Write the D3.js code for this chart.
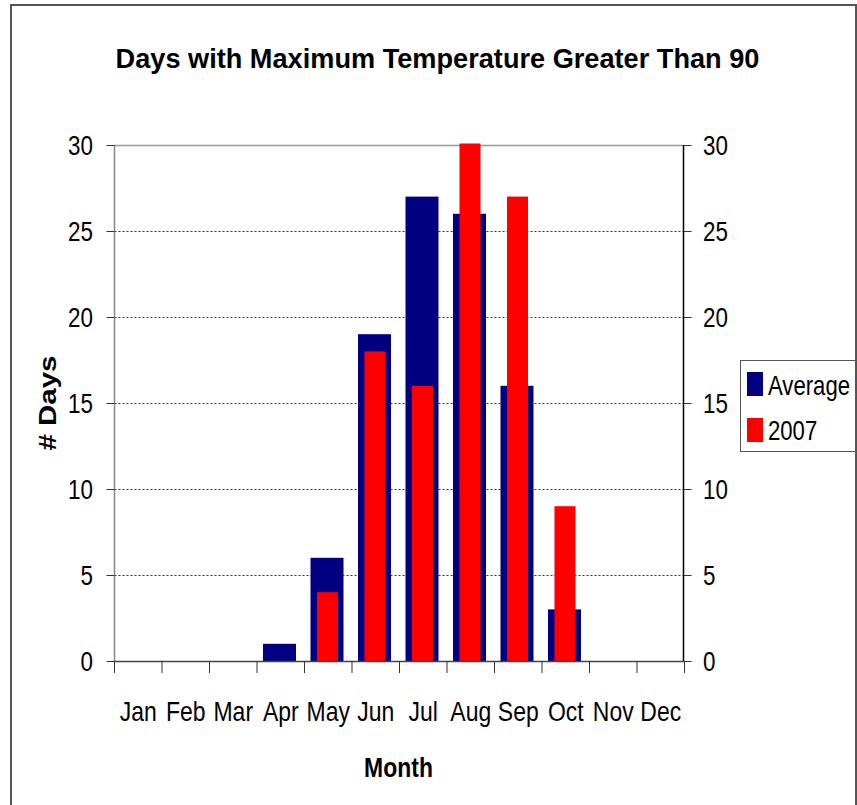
<!DOCTYPE html>
<html>
<head>
<meta charset="utf-8">
<script src="https://cdn.jsdelivr.net/npm/d3@7"></script>
<style>
  body { margin: 0; background: #fff; }
  svg text { font-family: "Liberation Sans Narrow", "Liberation Sans", Arial, sans-serif; fill: #000; }
</style>
</head>
<body>
<svg id="chart" width="857" height="805"></svg>
<script>
// data
var months = ['Jan', 'Feb', 'Mar', 'Apr', 'May', 'Jun', 'Jul', 'Aug', 'Sep', 'Oct', 'Nov', 'Dec'];
var averageDays = [0, 0, 0, 1, 6, 19, 27, 26, 16, 3, 0, 0];
var days2007 = [0, 0, 0, 0, 4, 18, 16, 30, 27, 9, 0, 0];
var yTicks = [0, 5, 10, 15, 20, 25, 30];
var seriesNames = ['Average', '2007'];
var seriesColors = ['#000080', '#ff0000'];

(function () {
  var svg = d3.select('#chart');
  var pLeft = 114.5, pRight = 684.5, pTop = 145, pBottom = 661;

  // outer frame
  svg.append('rect')
    .attr('x', 11).attr('y', 5)
    .attr('width', 845).attr('height', 820)
    .attr('fill', 'none').attr('stroke', '#555').attr('stroke-width', 2);

  var x = d3.scaleBand().domain(months).range([pLeft, pRight]).padding(0);
  var y = d3.scaleLinear().domain([0, 30]).range([pBottom, pTop]);

  // condensed text helper: squeeze horizontally like the original
  function label(g, txt, px, py, size, anchor, weight, sx) {
    return g.append('text')
      .attr('transform', 'translate(' + px + ',' + py + ') scale(' + (sx || 0.8) + ',1)')
      .attr('text-anchor', anchor)
      .style('font-size', size + 'px')
      .style('font-weight', weight || 'normal')
      .text(txt);
  }

  // gridlines (dotted), top one solid gray
  svg.append('g').selectAll('line')
    .data(yTicks.filter(function (t) { return t > 0; }))
    .join('line')
    .attr('x1', pLeft).attr('x2', pRight)
    .attr('y1', function (d) { return Math.round(y(d)) + 0.5; })
    .attr('y2', function (d) { return Math.round(y(d)) + 0.5; })
    .attr('stroke', function (d) { return d === 30 ? '#999' : '#333'; })
    .attr('stroke-width', function (d) { return d === 30 ? 1.5 : 1; })
    .attr('stroke-dasharray', function (d) { return d === 30 ? null : '2,2'; });

  // bars: average behind, 2007 in front
  var bars = svg.append('g');
  bars.selectAll('rect.avg')
    .data(averageDays.map(function (v, i) { return { m: months[i], v: v }; }).filter(function (d) { return d.v > 0; }))
    .join('rect').attr('class', 'avg')
    .attr('x', function (d) { return x(d.m) + 6; })
    .attr('width', 33)
    .attr('y', function (d) { return y(d.v); })
    .attr('height', function (d) { return y(0) - y(d.v); })
    .attr('fill', seriesColors[0]);

  bars.selectAll('rect.y07')
    .data(days2007.map(function (v, i) { return { m: months[i], v: v }; }).filter(function (d) { return d.v > 0; }))
    .join('rect').attr('class', 'y07')
    .attr('x', function (d) { return x(d.m) + 12.5; })
    .attr('width', 21)
    .attr('y', function (d) { return y(d.v) - (d.v === 30 ? 1.5 : 0); })
    .attr('height', function (d) { return y(0) - y(d.v) + (d.v === 30 ? 1.5 : 0); })
    .attr('fill', seriesColors[1]);

  // axis lines
  svg.append('line').attr('x1', pLeft).attr('x2', pLeft).attr('y1', pTop).attr('y2', pBottom)
    .attr('stroke', '#888').attr('stroke-width', 1.5);
  svg.append('line').attr('x1', pRight - 1).attr('x2', pRight - 1).attr('y1', pTop).attr('y2', pBottom)
    .attr('stroke', '#000').attr('stroke-width', 1.5);

  // left axis
  svg.append('g').attr('transform', 'translate(' + pLeft + ',0)')
    .call(d3.axisLeft(y).tickValues(yTicks).tickSize(8).tickFormat(''))
    .call(function (g) { g.select('.domain').remove(); g.selectAll('line').attr('stroke', '#333'); });
  yTicks.forEach(function (t) { label(svg, t, 93, y(t) + 10, 28, 'end'); });

  // right axis
  svg.append('g').attr('transform', 'translate(' + (pRight - 1) + ',0)')
    .call(d3.axisRight(y).tickValues(yTicks).tickSize(8).tickFormat(''))
    .call(function (g) { g.select('.domain').remove(); g.selectAll('line').attr('stroke', '#333'); });
  yTicks.forEach(function (t) { label(svg, t, 703, y(t) + 10, 28, 'start'); });

  // bottom axis line + ticks at band edges
  svg.append('line').attr('x1', pLeft).attr('x2', pRight).attr('y1', pBottom + 0.5).attr('y2', pBottom + 0.5)
    .attr('stroke', '#444').attr('stroke-width', 1.5);
  svg.append('g').selectAll('line')
    .data(months.concat(['end']))
    .join('line')
    .attr('x1', function (d) { return d === 'end' ? pRight : x(d); })
    .attr('x2', function (d) { return d === 'end' ? pRight : x(d); })
    .attr('y1', pBottom).attr('y2', pBottom + 12)
    .attr('stroke', '#333');
  months.forEach(function (m) { label(svg, m, x(m) + x.bandwidth() / 2, 721, 28, 'middle', 'normal', 0.82); });

  // titles
  label(svg, 'Days with Maximum Temperature Greater Than 90', 437.5, 68, 28, 'middle', 'bold', 0.97);
  label(svg, 'Month', 398.5, 777, 27, 'middle', 'bold', 0.85);
  svg.append('text')
    .attr('transform', 'translate(56,403) rotate(-90)')
    .attr('text-anchor', 'middle')
    .attr('textLength', 95).attr('lengthAdjust', 'spacingAndGlyphs')
    .style('font-size', '24px').style('font-weight', 'bold')
    .style('font-family', '"Liberation Sans", Arial, sans-serif')
    .text('# Days');

  // legend
  var lg = svg.append('g');
  lg.append('rect').attr('x', 740.5).attr('y', 360.5).attr('width', 115).attr('height', 91)
    .attr('fill', '#fff').attr('stroke', '#555').attr('stroke-width', 1);
  seriesNames.forEach(function (name, i) {
    lg.append('rect').attr('x', 747).attr('y', 372 + i * 46).attr('width', 16).attr('height', 24)
      .attr('fill', seriesColors[i]);
    label(lg, name, 768, 395 + i * 45, 27, 'start', 'normal', 0.82);
  });
})();
</script>
</body>
</html>
